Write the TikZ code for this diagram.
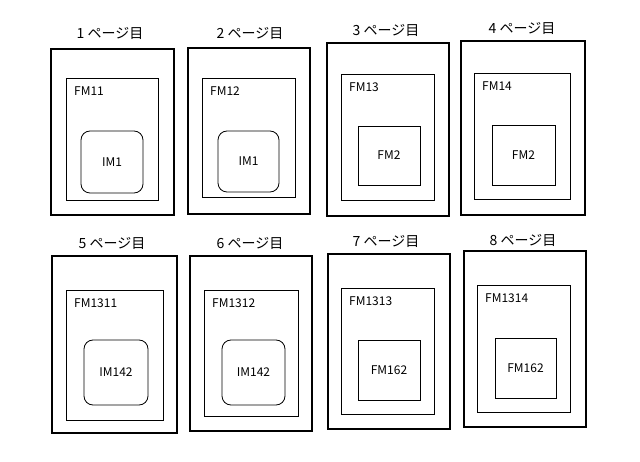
\documentclass[tikz,border=0pt]{standalone}
\usepackage{fontspec}
\newfontfamily\jp{Noto Sans CJK JP}
\begin{document}
\begin{tikzpicture}[x=1pt,y=-1pt,
  outerbox/.style={draw,line width=2pt,anchor=north west,inner sep=0pt},
  framebox/.style={draw,line width=0.8pt,anchor=north west,inner sep=0pt},
  imbox/.style={draw,line width=0.8pt,rounded corners=9pt,inner sep=0pt,font=\jp\fontsize{12}{14}\selectfont},
  fmbox/.style={draw,line width=0.8pt,inner sep=0pt,font=\jp\fontsize{12}{14}\selectfont},
  pagelbl/.style={font=\jp\fontsize{14}{16}\selectfont},
  fmlbl/.style={font=\jp\fontsize{12}{14}\selectfont,anchor=north west,inner sep=0pt}]
\useasboundingbox (0,0) rectangle (640,462);
\foreach \i/\lab/\fm/\im/\st/\ox/\oy/\oX/\oY/\ix/\iy/\iX/\iY/\bx/\by/\bX/\bY/\lx/\ly in {
 1/1 ページ目/FM11/IM1/imbox/50/48/173/214/66/78/158/200/81/131/143/193/110/33,
 2/2 ページ目/FM12/IM1/imbox/187/47/309/213/202/78/295/197/218/131/279/192/250/33,
 3/3 ページ目/FM13/FM2/fmbox/326/42/448/215/341/74/434/200/358/126/420/185/386/30,
 4/4 ページ目/FM14/FM2/fmbox/460/40/584/214/474/73/570/199/492/125/555/185/522/28,
 5/5 ページ目/FM1311/IM142/imbox/51/255/176/432/66/290/163/420/84/340/148/405/112/243,
 6/6 ページ目/FM1312/IM142/imbox/189/255/311/430/204/290/298/416/222/340/285/405/250/243,
 7/7 ページ目/FM1313/FM162/fmbox/327/253/449/428/341/288/434/414/358/340/420/400/386/241,
 8/8 ページ目/FM1314/FM162/fmbox/463/250/585/426/477/285/570/412/495/338/556/398/523/240}{
  \node[outerbox,minimum width={(\oX-\ox)*1pt},minimum height={(\oY-\oy)*1pt}] (page\i) at (\ox,\oy) {};
  \node[framebox,minimum width={(\iX-\ix)*1pt},minimum height={(\iY-\iy)*1pt}] (frame\i) at (\ix,\iy) {};
  \node[fmlbl] (fml\i) at (\ix+8,\iy+9) {\fm};
  \node[\st,minimum width={(\bX-\bx)*1pt},minimum height={(\bY-\by)*1pt}] (inner\i) at ({(\bx+\bX)/2},{(\by+\bY)/2}) {\im};
  \node[pagelbl] (lbl\i) at (\lx,\ly) {\lab};
}
\end{tikzpicture}
\end{document}
